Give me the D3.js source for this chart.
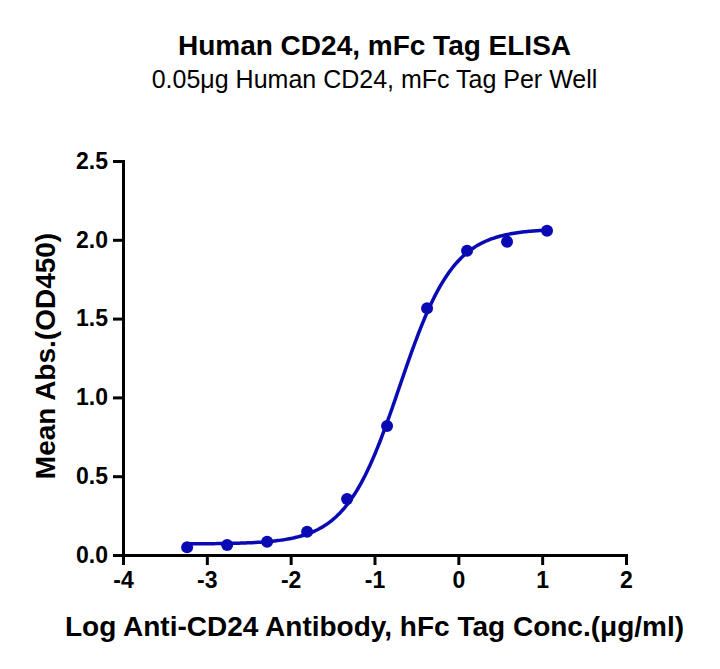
<!DOCTYPE html>
<html>
<head>
<meta charset="utf-8">
<script src="https://cdn.jsdelivr.net/npm/d3@7"></script>
<style>
  body { margin: 0; background: #fff; }
  text { font-family: "Liberation Sans", Arial, sans-serif; }
</style>
</head>
<body>
<svg id="chart"></svg>
<script>
// measured points (log conc, mean OD450)
const logConc = [-3.235, -2.758, -2.281, -1.804, -1.327, -0.850, -0.373, 0.104, 0.581, 1.058];
const meanAbs = [0.049, 0.063, 0.084, 0.148, 0.355, 0.818, 1.565, 1.931, 1.988, 2.058];
const xTicks = [-4, -3, -2, -1, 0, 1, 2];
const yTicks = [0, 0.5, 1.0, 1.5, 2.0, 2.5];
// 4PL fit
const fitBottom = 0.07, fitTop = 2.07, fitLogEC50 = -0.70, fitHill = 1.35;

const W = 720, H = 669;
const margin = { top: 161, right: 94, bottom: 114, left: 123 };
const width = W - margin.left - margin.right;
const height = H - margin.top - margin.bottom;
const blue = "#0a0ab4";

const svg = d3.select("#chart").attr("width", W).attr("height", H);
const g = svg.append("g").attr("transform", `translate(${margin.left},${margin.top})`);

const x = d3.scaleLinear().domain([-4, 2]).range([0, width]);
const y = d3.scaleLinear().domain([0, 2.5]).range([height, 0]);

const xAxis = g.append("g")
  .attr("transform", `translate(0,${height})`)
  .call(d3.axisBottom(x).tickValues(xTicks).tickSize(10).tickPadding(7).tickFormat((d) => String(d)));
const yAxis = g.append("g")
  .call(d3.axisLeft(y).tickValues(yTicks).tickSize(10).tickPadding(5).tickFormat(d3.format(".1f")));

[xAxis, yAxis].forEach((a) => {
  a.select(".domain").attr("stroke", "#000").attr("stroke-width", 3);
  a.selectAll(".tick line").attr("stroke", "#000").attr("stroke-width", 3);
  a.selectAll(".tick text")
    .attr("fill", "#000")
    .style("font-size", "23px")
    .style("font-weight", "bold")
    .style("font-family", "'Liberation Sans', Arial, sans-serif");
});

// fitted curve
const fit = (t) => fitBottom + (fitTop - fitBottom) / (1 + Math.pow(10, fitHill * (fitLogEC50 - t)));
const curveX = d3.range(logConc[0], logConc[logConc.length - 1] + 0.001, 0.02);
g.append("path")
  .datum(curveX)
  .attr("fill", "none")
  .attr("stroke", blue)
  .attr("stroke-width", 3.5)
  .attr("d", d3.line().x((d) => x(d)).y((d) => y(fit(d))));

g.selectAll(".pt")
  .data(logConc)
  .enter()
  .append("circle")
  .attr("class", "pt")
  .attr("cx", (d) => x(d))
  .attr("cy", (d, i) => y(meanAbs[i]))
  .attr("r", 6)
  .attr("fill", blue);

const cx = margin.left + width / 2;
svg.append("text")
  .attr("x", cx).attr("y", 55)
  .attr("text-anchor", "middle")
  .style("font-size", "28px").style("font-weight", "bold")
  .text("Human CD24, mFc Tag ELISA");
svg.append("text")
  .attr("x", cx).attr("y", 88)
  .attr("text-anchor", "middle")
  .style("font-size", "25px")
  .text("0.05μg Human CD24, mFc Tag Per Well");
svg.append("text")
  .attr("x", cx).attr("y", 636)
  .attr("text-anchor", "middle")
  .style("font-size", "28px").style("font-weight", "bold")
  .text("Log Anti-CD24 Antibody, hFc Tag Conc.(μg/ml)");
svg.append("text")
  .attr("transform", `translate(55,${margin.top + height / 2 - 2}) rotate(-90)`)
  .attr("text-anchor", "middle")
  .style("font-size", "28px").style("font-weight", "bold")
  .text("Mean Abs.(OD450)");
</script>
</body>
</html>
